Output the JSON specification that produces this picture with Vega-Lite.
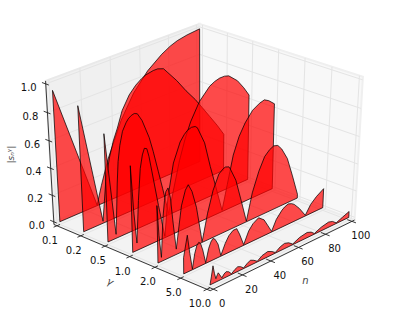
{"$schema":"https://vega.github.io/schema/vega-lite/v6.json","width":399,"height":313,"padding":0,"autosize":{"type":"none"},"background":"white","config":{"view":{"stroke":null},"text":{"font":"DejaVu Sans"}},
"data":{"values":[
{"k":"p","id":"left","g":-0.125,"n":-2.08,"s":-0.0208},{"k":"p","id":"left","g":-0.125,"n":102.08,"s":-0.0208},{"k":"p","id":"left","g":-0.125,"n":102.08,"s":1.0208},{"k":"p","id":"left","g":-0.125,"n":-2.08,"s":1.0208},{"k":"p","id":"left","g":-0.125,"n":-2.08,"s":-0.0208},
{"k":"p2","id":"right","g":-0.125,"n":102.08,"s":-0.0208},{"k":"p2","id":"right","g":6.125,"n":102.08,"s":-0.0208},{"k":"p2","id":"right","g":6.125,"n":102.08,"s":1.0208},{"k":"p2","id":"right","g":-0.125,"n":102.08,"s":1.0208},{"k":"p2","id":"right","g":-0.125,"n":102.08,"s":-0.0208},
{"k":"p3","id":"floor","g":-0.125,"n":-2.08,"s":-0.0208},{"k":"p3","id":"floor","g":6.125,"n":-2.08,"s":-0.0208},{"k":"p3","id":"floor","g":6.125,"n":102.08,"s":-0.0208},{"k":"p3","id":"floor","g":-0.125,"n":102.08,"s":-0.0208},{"k":"p3","id":"floor","g":-0.125,"n":-2.08,"s":-0.0208},

{"k":"gr","id":"n0","g":6.125,"n":0,"s":-0.0208},{"k":"gr","id":"n0","g":-0.125,"n":0,"s":-0.0208},{"k":"gr","id":"n0","g":-0.125,"n":0,"s":1.0208},
{"k":"gr","id":"n20","g":6.125,"n":20,"s":-0.0208},{"k":"gr","id":"n20","g":-0.125,"n":20,"s":-0.0208},{"k":"gr","id":"n20","g":-0.125,"n":20,"s":1.0208},
{"k":"gr","id":"n40","g":6.125,"n":40,"s":-0.0208},{"k":"gr","id":"n40","g":-0.125,"n":40,"s":-0.0208},{"k":"gr","id":"n40","g":-0.125,"n":40,"s":1.0208},
{"k":"gr","id":"n60","g":6.125,"n":60,"s":-0.0208},{"k":"gr","id":"n60","g":-0.125,"n":60,"s":-0.0208},{"k":"gr","id":"n60","g":-0.125,"n":60,"s":1.0208},
{"k":"gr","id":"n80","g":6.125,"n":80,"s":-0.0208},{"k":"gr","id":"n80","g":-0.125,"n":80,"s":-0.0208},{"k":"gr","id":"n80","g":-0.125,"n":80,"s":1.0208},
{"k":"gr","id":"n100","g":6.125,"n":100,"s":-0.0208},{"k":"gr","id":"n100","g":-0.125,"n":100,"s":-0.0208},{"k":"gr","id":"n100","g":-0.125,"n":100,"s":1.0208},
{"k":"gr","id":"g0","g":0,"n":-2.08,"s":-0.0208},{"k":"gr","id":"g0","g":0,"n":102.08,"s":-0.0208},{"k":"gr","id":"g0","g":0,"n":102.08,"s":1.0208},
{"k":"gr","id":"g1","g":1,"n":-2.08,"s":-0.0208},{"k":"gr","id":"g1","g":1,"n":102.08,"s":-0.0208},{"k":"gr","id":"g1","g":1,"n":102.08,"s":1.0208},
{"k":"gr","id":"g2","g":2,"n":-2.08,"s":-0.0208},{"k":"gr","id":"g2","g":2,"n":102.08,"s":-0.0208},{"k":"gr","id":"g2","g":2,"n":102.08,"s":1.0208},
{"k":"gr","id":"g3","g":3,"n":-2.08,"s":-0.0208},{"k":"gr","id":"g3","g":3,"n":102.08,"s":-0.0208},{"k":"gr","id":"g3","g":3,"n":102.08,"s":1.0208},
{"k":"gr","id":"g4","g":4,"n":-2.08,"s":-0.0208},{"k":"gr","id":"g4","g":4,"n":102.08,"s":-0.0208},{"k":"gr","id":"g4","g":4,"n":102.08,"s":1.0208},
{"k":"gr","id":"g5","g":5,"n":-2.08,"s":-0.0208},{"k":"gr","id":"g5","g":5,"n":102.08,"s":-0.0208},{"k":"gr","id":"g5","g":5,"n":102.08,"s":1.0208},
{"k":"gr","id":"g6","g":6,"n":-2.08,"s":-0.0208},{"k":"gr","id":"g6","g":6,"n":102.08,"s":-0.0208},{"k":"gr","id":"g6","g":6,"n":102.08,"s":1.0208},
{"k":"gr","id":"z0","g":-0.125,"n":-2.08,"s":0},{"k":"gr","id":"z0","g":-0.125,"n":102.08,"s":0},{"k":"gr","id":"z0","g":6.125,"n":102.08,"s":0},
{"k":"gr","id":"z2","g":-0.125,"n":-2.08,"s":0.2},{"k":"gr","id":"z2","g":-0.125,"n":102.08,"s":0.2},{"k":"gr","id":"z2","g":6.125,"n":102.08,"s":0.2},
{"k":"gr","id":"z4","g":-0.125,"n":-2.08,"s":0.4},{"k":"gr","id":"z4","g":-0.125,"n":102.08,"s":0.4},{"k":"gr","id":"z4","g":6.125,"n":102.08,"s":0.4},
{"k":"gr","id":"z6","g":-0.125,"n":-2.08,"s":0.6},{"k":"gr","id":"z6","g":-0.125,"n":102.08,"s":0.6},{"k":"gr","id":"z6","g":6.125,"n":102.08,"s":0.6},
{"k":"gr","id":"z8","g":-0.125,"n":-2.08,"s":0.8},{"k":"gr","id":"z8","g":-0.125,"n":102.08,"s":0.8},{"k":"gr","id":"z8","g":6.125,"n":102.08,"s":0.8},
{"k":"gr","id":"z10","g":-0.125,"n":-2.08,"s":1},{"k":"gr","id":"z10","g":-0.125,"n":102.08,"s":1},{"k":"gr","id":"z10","g":6.125,"n":102.08,"s":1},

{"k":"ax","id":"az","g":-0.125,"n":-2.08,"s":-0.0208},{"k":"ax","id":"az","g":-0.125,"n":-2.08,"s":1.0208},
{"k":"ax","id":"ag","g":-0.125,"n":-2.08,"s":-0.0208},{"k":"ax","id":"ag","g":6.125,"n":-2.08,"s":-0.0208},
{"k":"ax","id":"an","g":6.125,"n":-2.08,"s":-0.0208},{"k":"ax","id":"an","g":6.125,"n":102.08,"s":-0.0208},
{"k":"ax","id":"tg0","g":0,"n":-4.3,"s":-0.0208},{"k":"ax","id":"tg0","g":0,"n":0,"s":-0.0208},
{"k":"ax","id":"tg1","g":1,"n":-4.3,"s":-0.0208},{"k":"ax","id":"tg1","g":1,"n":0,"s":-0.0208},
{"k":"ax","id":"tg2","g":2,"n":-4.3,"s":-0.0208},{"k":"ax","id":"tg2","g":2,"n":0,"s":-0.0208},
{"k":"ax","id":"tg3","g":3,"n":-4.3,"s":-0.0208},{"k":"ax","id":"tg3","g":3,"n":0,"s":-0.0208},
{"k":"ax","id":"tg4","g":4,"n":-4.3,"s":-0.0208},{"k":"ax","id":"tg4","g":4,"n":0,"s":-0.0208},
{"k":"ax","id":"tg5","g":5,"n":-4.3,"s":-0.0208},{"k":"ax","id":"tg5","g":5,"n":0,"s":-0.0208},
{"k":"ax","id":"tg6","g":6,"n":-4.3,"s":-0.0208},{"k":"ax","id":"tg6","g":6,"n":0,"s":-0.0208},
{"k":"ax","id":"tn0","g":5.95,"n":0,"s":-0.0208},{"k":"ax","id":"tn0","g":6.28,"n":0,"s":-0.0208},
{"k":"ax","id":"tn20","g":5.95,"n":20,"s":-0.0208},{"k":"ax","id":"tn20","g":6.28,"n":20,"s":-0.0208},
{"k":"ax","id":"tn40","g":5.95,"n":40,"s":-0.0208},{"k":"ax","id":"tn40","g":6.28,"n":40,"s":-0.0208},
{"k":"ax","id":"tn60","g":5.95,"n":60,"s":-0.0208},{"k":"ax","id":"tn60","g":6.28,"n":60,"s":-0.0208},
{"k":"ax","id":"tn80","g":5.95,"n":80,"s":-0.0208},{"k":"ax","id":"tn80","g":6.28,"n":80,"s":-0.0208},
{"k":"ax","id":"tn100","g":5.95,"n":100,"s":-0.0208},{"k":"ax","id":"tn100","g":6.28,"n":100,"s":-0.0208},
{"k":"ax","id":"tz0","g":-0.28,"n":-2.08,"s":0},{"k":"ax","id":"tz0","g":0,"n":-2.08,"s":0},
{"k":"ax","id":"tz2","g":-0.28,"n":-2.08,"s":0.2},{"k":"ax","id":"tz2","g":0,"n":-2.08,"s":0.2},
{"k":"ax","id":"tz4","g":-0.28,"n":-2.08,"s":0.4},{"k":"ax","id":"tz4","g":0,"n":-2.08,"s":0.4},
{"k":"ax","id":"tz6","g":-0.28,"n":-2.08,"s":0.6},{"k":"ax","id":"tz6","g":0,"n":-2.08,"s":0.6},
{"k":"ax","id":"tz8","g":-0.28,"n":-2.08,"s":0.8},{"k":"ax","id":"tz8","g":0,"n":-2.08,"s":0.8},
{"k":"ax","id":"tz10","g":-0.28,"n":-2.08,"s":1},{"k":"ax","id":"tz10","g":0,"n":-2.08,"s":1},

{"k":"lg","t":"0.1","g":0,"n":-2.08,"s":-0.0208},{"k":"lg","t":"0.2","g":1,"n":-2.08,"s":-0.0208},{"k":"lg","t":"0.5","g":2,"n":-2.08,"s":-0.0208},{"k":"lg","t":"1.0","g":3,"n":-2.08,"s":-0.0208},{"k":"lg","t":"2.0","g":4,"n":-2.08,"s":-0.0208},{"k":"lg","t":"5.0","g":5,"n":-2.08,"s":-0.0208},{"k":"lg","t":"10.0","g":6,"n":-2.08,"s":-0.0208},
{"k":"ln","t":"0","g":6.125,"n":0,"s":-0.0208},{"k":"ln","t":"20","g":6.125,"n":20,"s":-0.0208},{"k":"ln","t":"40","g":6.125,"n":40,"s":-0.0208},{"k":"ln","t":"60","g":6.125,"n":60,"s":-0.0208},{"k":"ln","t":"80","g":6.125,"n":80,"s":-0.0208},{"k":"ln","t":"100","g":6.125,"n":100,"s":-0.0208},
{"k":"lz","t":"0.0","g":-0.125,"n":-2.08,"s":0},{"k":"lz","t":"0.2","g":-0.125,"n":-2.08,"s":0.2},{"k":"lz","t":"0.4","g":-0.125,"n":-2.08,"s":0.4},{"k":"lz","t":"0.6","g":-0.125,"n":-2.08,"s":0.6},{"k":"lz","t":"0.8","g":-0.125,"n":-2.08,"s":0.8},{"k":"lz","t":"1.0","g":-0.125,"n":-2.08,"s":1},
{"k":"tg","t":"γ","g":2.2,"n":-2.08,"s":-0.0208},
{"k":"tn","t":"n","g":6.125,"n":65,"s":-0.0208},
{"k":"tz","t":"|sₙᵞ|","g":-0.125,"n":-2.08,"s":0.5},

{"k":"c","id":0,"g":0,"n":0,"s":0},{"k":"c","id":0,"g":0,"n":0,"s":0.955},{"k":"c","id":0,"g":0,"n":25.5,"s":0.005},{"k":"c","id":0,"g":0,"n":29,"s":0.14},{"k":"c","id":0,"g":0,"n":34,"s":0.31},{"k":"c","id":0,"g":0,"n":44,"s":0.56},{"k":"c","id":0,"g":0,"n":53,"s":0.72},{"k":"c","id":0,"g":0,"n":63,"s":0.84},{"k":"c","id":0,"g":0,"n":73,"s":0.92},{"k":"c","id":0,"g":0,"n":79,"s":0.955},{"k":"c","id":0,"g":0,"n":84,"s":0.975},{"k":"c","id":0,"g":0,"n":91,"s":0.99},{"k":"c","id":0,"g":0,"n":100,"s":1.0},{"k":"c","id":0,"g":0,"n":100,"s":0},{"k":"c","id":0,"g":0,"n":0,"s":0},

{"k":"c","id":1,"g":1,"n":0,"s":0},{"k":"c","id":1,"g":1,"n":0,"s":0.913},{"k":"c","id":1,"g":1,"n":13.2,"s":0.015},{"k":"c","id":1,"g":1,"n":16,"s":0.3},{"k":"c","id":1,"g":1,"n":19,"s":0.46},{"k":"c","id":1,"g":1,"n":22,"s":0.57},{"k":"c","id":1,"g":1,"n":25,"s":0.65},{"k":"c","id":1,"g":1,"n":28.5,"s":0.76},{"k":"c","id":1,"g":1,"n":33.5,"s":0.85},{"k":"c","id":1,"g":1,"n":38,"s":0.9},{"k":"c","id":1,"g":1,"n":42,"s":0.93},{"k":"c","id":1,"g":1,"n":45,"s":0.945},{"k":"c","id":1,"g":1,"n":50,"s":0.955},{"k":"c","id":1,"g":1,"n":53,"s":0.955},{"k":"c","id":1,"g":1,"n":57,"s":0.94},{"k":"c","id":1,"g":1,"n":60,"s":0.9},{"k":"c","id":1,"g":1,"n":66,"s":0.82},{"k":"c","id":1,"g":1,"n":72.5,"s":0.72},{"k":"c","id":1,"g":1,"n":79,"s":0.63},{"k":"c","id":1,"g":1,"n":84,"s":0.55},{"k":"c","id":1,"g":1,"n":89.5,"s":0.46},{"k":"c","id":1,"g":1,"n":95,"s":0.37},{"k":"c","id":1,"g":1,"n":100,"s":0.28},{"k":"c","id":1,"g":1,"n":100,"s":0},{"k":"c","id":1,"g":1,"n":0,"s":0},

{"k":"c","id":2,"g":2,"n":0,"s":0},{"k":"c","id":2,"g":2,"n":0,"s":0.785},{"k":"c","id":2,"g":2,"n":5.6,"s":0.03},{"k":"c","id":2,"g":2,"n":6.5,"s":0.2},{"k":"c","id":2,"g":2,"n":7.5,"s":0.4},{"k":"c","id":2,"g":2,"n":8.5,"s":0.55},{"k":"c","id":2,"g":2,"n":10,"s":0.66},{"k":"c","id":2,"g":2,"n":12,"s":0.75},{"k":"c","id":2,"g":2,"n":14.5,"s":0.8},{"k":"c","id":2,"g":2,"n":16,"s":0.82},{"k":"c","id":2,"g":2,"n":18,"s":0.835},{"k":"c","id":2,"g":2,"n":20,"s":0.84},{"k":"c","id":2,"g":2,"n":22,"s":0.83},{"k":"c","id":2,"g":2,"n":25,"s":0.77},{"k":"c","id":2,"g":2,"n":29.5,"s":0.63},{"k":"c","id":2,"g":2,"n":32,"s":0.52},{"k":"c","id":2,"g":2,"n":35.2,"s":0.36},{"k":"c","id":2,"g":2,"n":38,"s":0.22},{"k":"c","id":2,"g":2,"n":42,"s":0.01},{"k":"c","id":2,"g":2,"n":46,"s":0.19},{"k":"c","id":2,"g":2,"n":50,"s":0.37},{"k":"c","id":2,"g":2,"n":54,"s":0.51},{"k":"c","id":2,"g":2,"n":58,"s":0.62},{"k":"c","id":2,"g":2,"n":64.2,"s":0.74},{"k":"c","id":2,"g":2,"n":71.4,"s":0.82},{"k":"c","id":2,"g":2,"n":75,"s":0.84},{"k":"c","id":2,"g":2,"n":78.5,"s":0.85},{"k":"c","id":2,"g":2,"n":82,"s":0.85},{"k":"c","id":2,"g":2,"n":85,"s":0.84},{"k":"c","id":2,"g":2,"n":91.3,"s":0.78},{"k":"c","id":2,"g":2,"n":96,"s":0.71},{"k":"c","id":2,"g":2,"n":100,"s":0.64},{"k":"c","id":2,"g":2,"n":100,"s":0},{"k":"c","id":2,"g":2,"n":0,"s":0},

{"k":"c","id":3,"g":3,"n":0,"s":0},{"k":"c","id":3,"g":3,"n":0,"s":0.63},{"k":"c","id":3,"g":3,"n":1.4,"s":0.3},{"k":"c","id":3,"g":3,"n":3,"s":0.055},{"k":"c","id":3,"g":3,"n":4.7,"s":0.36},{"k":"c","id":3,"g":3,"n":6.4,"s":0.58},{"k":"c","id":3,"g":3,"n":8,"s":0.67},{"k":"c","id":3,"g":3,"n":9.4,"s":0.71},{"k":"c","id":3,"g":3,"n":11,"s":0.7},{"k":"c","id":3,"g":3,"n":12.3,"s":0.64},{"k":"c","id":3,"g":3,"n":15,"s":0.46},{"k":"c","id":3,"g":3,"n":18,"s":0.26},{"k":"c","id":3,"g":3,"n":22,"s":0.01},{"k":"c","id":3,"g":3,"n":24.5,"s":0.29},{"k":"c","id":3,"g":3,"n":28.5,"s":0.52},{"k":"c","id":3,"g":3,"n":33.2,"s":0.65},{"k":"c","id":3,"g":3,"n":36,"s":0.69},{"k":"c","id":3,"g":3,"n":38.1,"s":0.71},{"k":"c","id":3,"g":3,"n":41,"s":0.72},{"k":"c","id":3,"g":3,"n":43.5,"s":0.715},{"k":"c","id":3,"g":3,"n":45,"s":0.7},{"k":"c","id":3,"g":3,"n":50,"s":0.57},{"k":"c","id":3,"g":3,"n":54,"s":0.38},{"k":"c","id":3,"g":3,"n":58,"s":0.21},{"k":"c","id":3,"g":3,"n":62.6,"s":0.01},{"k":"c","id":3,"g":3,"n":66.3,"s":0.19},{"k":"c","id":3,"g":3,"n":70.4,"s":0.39},{"k":"c","id":3,"g":3,"n":74.5,"s":0.51},{"k":"c","id":3,"g":3,"n":78.7,"s":0.59},{"k":"c","id":3,"g":3,"n":84,"s":0.66},{"k":"c","id":3,"g":3,"n":89,"s":0.69},{"k":"c","id":3,"g":3,"n":92.5,"s":0.7},{"k":"c","id":3,"g":3,"n":95.8,"s":0.68},{"k":"c","id":3,"g":3,"n":100,"s":0.64},{"k":"c","id":3,"g":3,"n":100,"s":0},{"k":"c","id":3,"g":3,"n":0,"s":0},

{"k":"c","id":4,"g":4,"n":0,"s":0},{"k":"c","id":4,"g":4,"n":0,"s":0.42},{"k":"c","id":4,"g":4,"n":1,"s":0.2},{"k":"c","id":4,"g":4,"n":2.4,"s":0.03},{"k":"c","id":4,"g":4,"n":3.8,"s":0.31},{"k":"c","id":4,"g":4,"n":5,"s":0.43},{"k":"c","id":4,"g":4,"n":6,"s":0.49},{"k":"c","id":4,"g":4,"n":7.5,"s":0.51},{"k":"c","id":4,"g":4,"n":9,"s":0.43},{"k":"c","id":4,"g":4,"n":10.5,"s":0.25},{"k":"c","id":4,"g":4,"n":12.5,"s":0.04},{"k":"c","id":4,"g":4,"n":14.5,"s":0.2},{"k":"c","id":4,"g":4,"n":16.3,"s":0.34},{"k":"c","id":4,"g":4,"n":19,"s":0.44},{"k":"c","id":4,"g":4,"n":21,"s":0.47},{"k":"c","id":4,"g":4,"n":23.5,"s":0.41},{"k":"c","id":4,"g":4,"n":26.5,"s":0.28},{"k":"c","id":4,"g":4,"n":28.5,"s":0.14},{"k":"c","id":4,"g":4,"n":30.4,"s":0.005},{"k":"c","id":4,"g":4,"n":34.2,"s":0.2},{"k":"c","id":4,"g":4,"n":38,"s":0.35},{"k":"c","id":4,"g":4,"n":42,"s":0.45},{"k":"c","id":4,"g":4,"n":45,"s":0.475},{"k":"c","id":4,"g":4,"n":46.5,"s":0.48},{"k":"c","id":4,"g":4,"n":49,"s":0.47},{"k":"c","id":4,"g":4,"n":50,"s":0.45},{"k":"c","id":4,"g":4,"n":54,"s":0.35},{"k":"c","id":4,"g":4,"n":58,"s":0.18},{"k":"c","id":4,"g":4,"n":62,"s":0.005},{"k":"c","id":4,"g":4,"n":66,"s":0.2},{"k":"c","id":4,"g":4,"n":70.5,"s":0.34},{"k":"c","id":4,"g":4,"n":74.5,"s":0.43},{"k":"c","id":4,"g":4,"n":78,"s":0.465},{"k":"c","id":4,"g":4,"n":81,"s":0.48},{"k":"c","id":4,"g":4,"n":84,"s":0.47},{"k":"c","id":4,"g":4,"n":87,"s":0.43},{"k":"c","id":4,"g":4,"n":91.4,"s":0.34},{"k":"c","id":4,"g":4,"n":95.7,"s":0.19},{"k":"c","id":4,"g":4,"n":100,"s":0.03},{"k":"c","id":4,"g":4,"n":100,"s":0},{"k":"c","id":4,"g":4,"n":0,"s":0},

{"k":"c","id":5,"g":5,"n":0,"s":0},{"k":"c","id":5,"g":5,"n":0,"s":0.12},{"k":"c","id":5,"g":5,"n":2.6,"s":0.27},{"k":"c","id":5,"g":5,"n":4.2,"s":0.13},{"k":"c","id":5,"g":5,"n":5.9,"s":0.005},{"k":"c","id":5,"g":5,"n":7.5,"s":0.11},{"k":"c","id":5,"g":5,"n":9,"s":0.165},{"k":"c","id":5,"g":5,"n":10.3,"s":0.18},{"k":"c","id":5,"g":5,"n":11.5,"s":0.165},{"k":"c","id":5,"g":5,"n":13,"s":0.11},{"k":"c","id":5,"g":5,"n":15,"s":0.005},{"k":"c","id":5,"g":5,"n":17,"s":0.1},{"k":"c","id":5,"g":5,"n":18.5,"s":0.14},{"k":"c","id":5,"g":5,"n":20,"s":0.16},{"k":"c","id":5,"g":5,"n":21.5,"s":0.145},{"k":"c","id":5,"g":5,"n":23.5,"s":0.1},{"k":"c","id":5,"g":5,"n":25.5,"s":0.005},{"k":"c","id":5,"g":5,"n":28.5,"s":0.08},{"k":"c","id":5,"g":5,"n":31,"s":0.125},{"k":"c","id":5,"g":5,"n":34,"s":0.15},{"k":"c","id":5,"g":5,"n":36.5,"s":0.15},{"k":"c","id":5,"g":5,"n":38.5,"s":0.1},{"k":"c","id":5,"g":5,"n":41.6,"s":0.005},{"k":"c","id":5,"g":5,"n":45,"s":0.09},{"k":"c","id":5,"g":5,"n":48,"s":0.13},{"k":"c","id":5,"g":5,"n":52,"s":0.155},{"k":"c","id":5,"g":5,"n":56,"s":0.12},{"k":"c","id":5,"g":5,"n":59,"s":0.06},{"k":"c","id":5,"g":5,"n":61.7,"s":0.005},{"k":"c","id":5,"g":5,"n":65,"s":0.08},{"k":"c","id":5,"g":5,"n":69,"s":0.13},{"k":"c","id":5,"g":5,"n":71,"s":0.145},{"k":"c","id":5,"g":5,"n":73.5,"s":0.155},{"k":"c","id":5,"g":5,"n":76,"s":0.145},{"k":"c","id":5,"g":5,"n":78,"s":0.13},{"k":"c","id":5,"g":5,"n":82,"s":0.08},{"k":"c","id":5,"g":5,"n":86.7,"s":0.005},{"k":"c","id":5,"g":5,"n":90.5,"s":0.07},{"k":"c","id":5,"g":5,"n":94.7,"s":0.11},{"k":"c","id":5,"g":5,"n":100,"s":0.145},{"k":"c","id":5,"g":5,"n":100,"s":0},{"k":"c","id":5,"g":5,"n":0,"s":0},

{"k":"c","id":6,"g":6,"n":0,"s":0},{"k":"c","id":6,"g":6,"n":1,"s":0.06},{"k":"c","id":6,"g":6,"n":2,"s":0.13},{"k":"c","id":6,"g":6,"n":3,"s":0.07},{"k":"c","id":6,"g":6,"n":4,"s":0.025},{"k":"c","id":6,"g":6,"n":5,"s":0.05},{"k":"c","id":6,"g":6,"n":5.6,"s":0.06},{"k":"c","id":6,"g":6,"n":6.6,"s":0.04},{"k":"c","id":6,"g":6,"n":8.1,"s":0.01},{"k":"c","id":6,"g":6,"n":9.5,"s":0.03},{"k":"c","id":6,"g":6,"n":11,"s":0.04},{"k":"c","id":6,"g":6,"n":12.8,"s":0.03},{"k":"c","id":6,"g":6,"n":14.7,"s":0.005},{"k":"c","id":6,"g":6,"n":17,"s":0.025},{"k":"c","id":6,"g":6,"n":19,"s":0.035},{"k":"c","id":6,"g":6,"n":21,"s":0.025},{"k":"c","id":6,"g":6,"n":23.1,"s":0.005},{"k":"c","id":6,"g":6,"n":25.5,"s":0.025},{"k":"c","id":6,"g":6,"n":27.8,"s":0.038},{"k":"c","id":6,"g":6,"n":30.2,"s":0.025},{"k":"c","id":6,"g":6,"n":32.7,"s":0.005},{"k":"c","id":6,"g":6,"n":36,"s":0.03},{"k":"c","id":6,"g":6,"n":40,"s":0.04},{"k":"c","id":6,"g":6,"n":43,"s":0.025},{"k":"c","id":6,"g":6,"n":45.5,"s":0.005},{"k":"c","id":6,"g":6,"n":49,"s":0.03},{"k":"c","id":6,"g":6,"n":52,"s":0.04},{"k":"c","id":6,"g":6,"n":55,"s":0.03},{"k":"c","id":6,"g":6,"n":58.1,"s":0.005},{"k":"c","id":6,"g":6,"n":63,"s":0.03},{"k":"c","id":6,"g":6,"n":68.5,"s":0.04},{"k":"c","id":6,"g":6,"n":71.5,"s":0.028},{"k":"c","id":6,"g":6,"n":74,"s":0.005},{"k":"c","id":6,"g":6,"n":79,"s":0.028},{"k":"c","id":6,"g":6,"n":84.5,"s":0.04},{"k":"c","id":6,"g":6,"n":87.5,"s":0.03},{"k":"c","id":6,"g":6,"n":90.4,"s":0.005},{"k":"c","id":6,"g":6,"n":95,"s":0.025},{"k":"c","id":6,"g":6,"n":100,"s":0.045},{"k":"c","id":6,"g":6,"n":100,"s":0},{"k":"c","id":6,"g":6,"n":0,"s":0}
]},
"transform":[
{"window":[{"op":"row_number","as":"i"}]},
{"calculate":"datum.g/6-0.5","as":"px"},
{"calculate":"datum.n/100-0.5","as":"py"},
{"calculate":"datum.s-0.5","as":"pz"},
{"calculate":"10-(0.5828*datum.px-0.625*datum.py+0.5195*datum.pz)","as":"depth"},
{"calculate":"(0.7314*datum.px+0.682*datum.py)/datum.depth","as":"vx"},
{"calculate":"(-0.3543*datum.px+0.38*datum.py+0.8545*datum.pz)/datum.depth","as":"vy"}
],
"encoding":{
"x":{"field":"vx","type":"quantitative","scale":{"domain":[-0.09757,0.0927],"nice":false,"zero":false},"axis":null},
"y":{"field":"vy","type":"quantitative","scale":{"domain":[-0.09969,0.09472],"nice":false,"zero":false},"axis":null}
},
"layer":[
{"transform":[{"filter":"datum.k=='p'"}],"mark":{"type":"line","fill":"#f0f0f0","stroke":"#e9e9e9","strokeWidth":2},"encoding":{"order":{"field":"i"}}},
{"transform":[{"filter":"datum.k=='p2'"}],"mark":{"type":"line","fill":"#f8f8f8","stroke":"#efefef","strokeWidth":2},"encoding":{"order":{"field":"i"}}},
{"transform":[{"filter":"datum.k=='p3'"}],"mark":{"type":"line","fill":"#f3f3f3","stroke":"#ececec","strokeWidth":1.5},"encoding":{"order":{"field":"i"}}},
{"transform":[{"filter":"datum.k=='gr'"}],"mark":{"type":"line","stroke":"#e4e4e4","strokeWidth":1},"encoding":{"detail":{"field":"id"},"order":{"field":"i"}}},
{"transform":[{"filter":"datum.k=='ax'"}],"mark":{"type":"line","stroke":"#222222","strokeWidth":0.9},"encoding":{"detail":{"field":"id"},"order":{"field":"i"}}},
{"transform":[{"filter":"datum.k=='c'"}],"mark":{"type":"line","fill":"#ff0000","fillOpacity":0.7,"stroke":"#000000","strokeOpacity":0.72,"strokeWidth":1,"strokeJoin":"round"},"encoding":{"detail":{"field":"id"},"order":{"field":"i"}}},
{"transform":[{"filter":"datum.k=='lg'"}],"mark":{"type":"text","fontSize":10,"dx":-7,"dy":15,"align":"center","baseline":"middle","color":"#111111"},"encoding":{"text":{"field":"t"}}},
{"transform":[{"filter":"datum.k=='ln'"}],"mark":{"type":"text","fontSize":10,"dx":9,"dy":15,"align":"center","baseline":"middle","color":"#111111"},"encoding":{"text":{"field":"t"}}},
{"transform":[{"filter":"datum.k=='lz'"}],"mark":{"type":"text","fontSize":10,"dx":-17,"dy":4,"align":"center","baseline":"middle","color":"#111111"},"encoding":{"text":{"field":"t"}}},
{"transform":[{"filter":"datum.k=='tg'"}],"mark":{"type":"text","fontSize":10,"fontStyle":"italic","dx":14.3,"dy":30.8,"angle":25,"align":"center","baseline":"middle","color":"#444444"},"encoding":{"text":{"field":"t"}}},
{"transform":[{"filter":"datum.k=='tn'"}],"mark":{"type":"text","fontSize":10,"fontStyle":"italic","dx":0,"dy":37,"align":"center","baseline":"middle","color":"#444444"},"encoding":{"text":{"field":"t"}}},
{"transform":[{"filter":"datum.k=='tz'"}],"mark":{"type":"text","fontSize":9,"fontStyle":"italic","dx":0,"dy":-39,"angle":270,"align":"center","baseline":"middle","color":"#444444"},"encoding":{"text":{"field":"t"}}}
]}
